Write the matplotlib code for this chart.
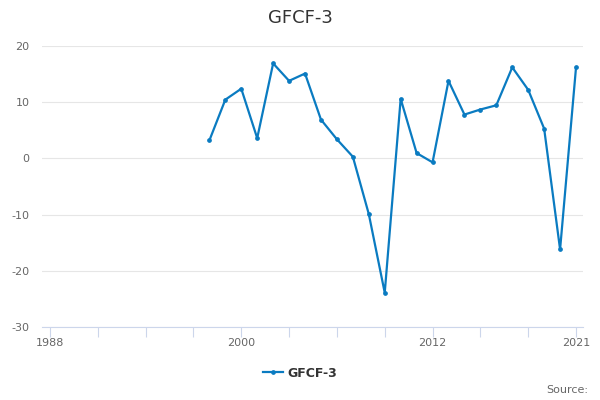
import matplotlib
matplotlib.use("Agg")
import matplotlib.pyplot as plt

years = list(range(1998, 2022))
gfcf = [3.2, 10.45, 12.4, 3.6, 16.9, 13.8, 15.1, 6.9, 3.4, 0.3, -9.9, -23.9,
        10.6, 0.95, -0.7, 13.8, 7.8, 8.7, 9.45, 16.2, 12.2, 5.3, -16.2, 16.2]
series_name = "GFCF-3"
x_labels = [1988, 2000, 2012, 2021]
y_ticks = [-30, -20, -10, 0, 10, 20]

blue = "#0a7bc1"

fig = plt.figure(figsize=(6, 4), dpi=100)
ax = fig.add_axes([0.07, 0.1825, 0.902, 0.7025])

ax.plot(years, gfcf, color=blue, lw=1.6, marker="o", ms=2.4, label=series_name)

ax.set_xlim(1987.5, 2021.45)
ax.set_ylim(-30, 20)
ax.set_yticks(y_ticks)
ax.set_yticklabels([str(v) for v in y_ticks])
x_ticks = list(range(1988, 2022, 3))
ax.set_xticks(x_ticks)
ax.set_xticklabels([str(y) if y in x_labels else "" for y in x_ticks])

ax.grid(axis="y", color="#e6e6e6", lw=0.8)
ax.set_axisbelow(True)
for s in ["top", "right", "left"]:
    ax.spines[s].set_visible(False)
ax.spines["bottom"].set_color("#ccd6eb")
ax.tick_params(axis="y", length=0, labelsize=8, labelcolor="#666666", pad=9)
ax.tick_params(axis="x", length=7, width=0.8, color="#ccd6eb", labelsize=8,
               labelcolor="#666666", pad=1)

fig.text(0.5, 0.955, "GFCF-3", ha="center", va="center", fontsize=13, color="#333333")
leg = fig.legend(loc="center", bbox_to_anchor=(0.5, 0.067), frameon=False,
                 prop={"size": 9, "weight": "bold"}, handlelength=1.6, handletextpad=0.4)
for t in leg.get_texts():
    t.set_color("#333333")
fig.text(0.98, 0.025, "Source:", ha="right", va="center", fontsize=8, color="#666666")

fig.savefig("out.png", dpi=100)
